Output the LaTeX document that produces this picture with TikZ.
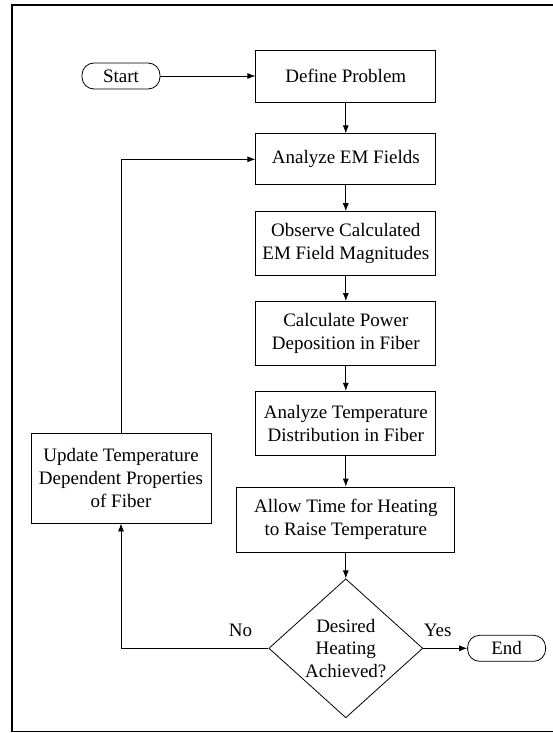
\documentclass[tikz,border=0pt]{standalone}
\usepackage{fontspec}
\setmainfont{Liberation Serif}
\usepackage{xcolor}
\usepackage{tikz}
\usetikzlibrary{positioning,shapes,arrows.meta,calc}
\tikzstyle{process}=[rectangle, draw=black, text=black, line width=0.8pt,
  minimum width=180pt, minimum height=64pt, inner sep=2pt]
\tikzstyle{terminal}=[rectangle, rounded corners=12pt, draw=black,
  text=black, line width=0.8pt, minimum width=78pt, minimum height=26pt,
  inner sep=2pt]
\tikzstyle{decision}=[diamond, draw=black, text=black, line width=0.8pt,
  shape aspect=1.2, minimum width=154pt, minimum height=139pt, inner sep=0pt]
\tikzstyle{every text node part}=[align=center]
\tikzstyle{every node}=[font=\fontsize{19}{22.7}\selectfont]
\tikzstyle{line} = [draw, line width=0.8pt, -{Latex[length=8pt,width=6pt]}]

\begin{document}
\begin{tikzpicture}[x=1pt, y=1pt]
    \useasboundingbox (0,0) rectangle (553,-733);
    \draw[line width=1.6pt] (12,-5) rectangle (560,-731.5);
    \draw[line width=2.4pt] (12,-5) -- (12,-731.5);
    \node (start) [terminal] at (121,-76) {Start};
    \node (define)
          [process, minimum height=52pt, right=95pt of start]
          {Define Problem};
    \node (fields)
          [process, minimum height=51pt, below=31pt of define]
          {Analyze EM Fields};
    \node (observe)
          [process, below=26pt of fields]
          {Observe Calculated\\EM Field Magnitudes};
    \node (power)
          [process, below=25pt of observe]
          {Calculate Power\\Deposition in Fiber};
    \node (temp)
          [process, below=25pt of power]
          {Analyze Temperature\\Distribution in Fiber};
    \node (heat)
          [process, minimum width=218pt, minimum height=65pt, below=31pt of temp]
          {Allow Time for Heating\\to Raise Temperature};
    \node (decide)
          [decision, below=26pt of heat]
          {Desired\\Heating\\Achieved?};
    \node (stop) [terminal, right=44pt of decide] {End};
    \node (update)
          [process, minimum height=90pt] at (121,-478)
          {Update Temperature\\Dependent Properties\\of Fiber};
    \path[line] (start) -- (define);
    \path[line] (define) -- (fields);
    \path[line] (fields) -- (observe);
    \path[line] (observe) -- (power);
    \path[line] (power) -- (temp);
    \path[line] (temp) -- (heat);
    \path[line] (heat) -- (decide);
    \path[line] (decide.east) -- node[above=8pt, pos=0.33] {Yes} (stop);
    \path[line] (decide.west) -- node[above=8pt, pos=0.19] {No}
                (update |- decide.west) -- (update.south);
    \path[line] (update.north) |- (fields.west);
  \end{tikzpicture}
\end{document}
